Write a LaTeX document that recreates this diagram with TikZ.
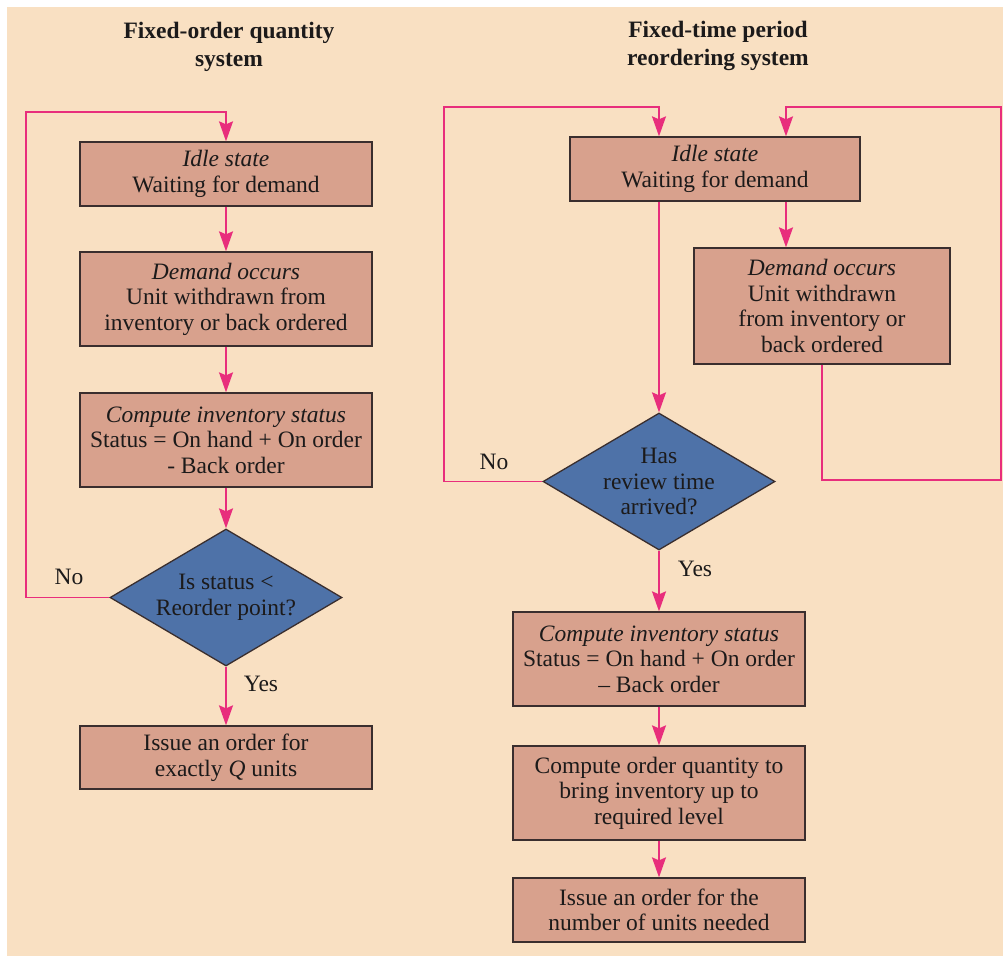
\documentclass[tikz,border=0pt]{standalone}
\usepackage{fontspec}
\setmainfont{Liberation Serif}
\usetikzlibrary{shapes.geometric,arrows.meta}

\definecolor{paper}{HTML}{F9E0C2}
\definecolor{boxfill}{HTML}{D8A18D}
\definecolor{boxline}{HTML}{3A2E2E}
\definecolor{diafill}{HTML}{4E72A8}
\definecolor{flowpink}{HTML}{E82E7C}
\definecolor{ink}{HTML}{1C1A1A}

\tikzset{
  heading/.style={align=center, text=ink, inner sep=0pt,
    font=\bfseries\fontsize{23.5}{27.5}\selectfont},
  stepbox/.style={draw=boxline, fill=boxfill, line width=1.3pt,
    minimum width=292pt, inner sep=0pt, align=center, text=ink,
    font=\fontsize{23.5}{25.5}\selectfont},
  decide/.style={diamond, draw=boxline, fill=diafill, line width=1.3pt,
    minimum width=232pt, minimum height=137pt, inner sep=0pt},
  decidetext/.style={align=center, text=ink, inner sep=0pt,
    font=\fontsize{23.5}{25.5}\selectfont},
  lbl/.style={text=ink, inner sep=0pt, font=\fontsize{23.5}{25}\selectfont},
  flow/.style={draw=flowpink, line width=1.7pt,
    -{Stealth[length=20pt,width=14pt,inset=3pt]}}
}

\begin{document}
\begin{tikzpicture}[x=1pt,y=-1pt]
  % page and paper tint
  \fill[white] (0,0) rectangle (1003,956);
  \fill[paper] (7,7) rectangle (1003,956);
  \useasboundingbox (0,0) rectangle (1003,956);

  % headings
  \node[heading] (ltitle) at (229,47) {Fixed-order quantity\\system};
  \node[heading] (rtitle) at (718,46) {Fixed-time period\\reordering system};

  % ---- fixed-order quantity system ----
  \node[stepbox, minimum height=64pt] (l1) at (226,174)
    {\textit{Idle state}\\Waiting for demand};
  \node[stepbox, minimum height=94pt] (l2) at (226,299)
    {\textit{Demand occurs}\\Unit withdrawn from\\inventory or back ordered};
  \node[stepbox, minimum height=94pt] (l3) at (226,440)
    {\textit{Compute inventory status}\\Status = On hand + On order\\- Back order};
  \node[decide, label={[decidetext]center:Is status <\\Reorder point?}] (ld) at (226,597.5) {};
  \node[stepbox, minimum height=63pt] (l4) at (226,757.5)
    {Issue an order for\\exactly \textit{Q} units};

  \coordinate (lcorner) at (26,112);
  \draw[flow] (l1) -- (l2);
  \draw[flow] (l2) -- (l3);
  \draw[flow] (l3) -- (ld);
  \draw[flow] (ld) -- (l4);
  \draw[flow] (ld.west) -| (lcorner) -| (l1.north);
  \node[lbl] (lno) at (69,577) {No};
  \node[lbl] (lyes) at (261,684) {Yes};

  % ---- fixed-time period reordering system ----
  \node[stepbox, minimum width=290pt, minimum height=64pt] (r1) at (715,169)
    {\textit{Idle state}\\Waiting for demand};
  \node[stepbox, minimum width=256pt, minimum height=116pt] (r2) at (822,306)
    {\textit{Demand occurs}\\Unit withdrawn\\from inventory or\\back ordered};
  \node[decide, label={[decidetext]center:Has\\review time\\arrived?}] (rd) at (659,481.5) {};
  \node[stepbox, minimum height=94pt] (r3) at (659,659)
    {\textit{Compute inventory status}\\Status = On hand + On order\\– Back order};
  \node[stepbox, minimum height=94pt] (r4) at (659,793)
    {Compute order quantity to\\bring inventory up to\\required level};
  \node[stepbox, minimum height=64pt] (r5) at (659,910)
    {Issue an order for the\\number of units needed};

  \coordinate (rleft) at (444,107);
  \coordinate (rdrop) at (786,107);
  \coordinate (rbottom) at (1001,480);
  \coordinate (rtop) at (1001,107);

  \draw[flow] (r1.south -| rd.north) -- (rd.north);
  \draw[flow] (r1.south -| rdrop) -- (r2.north -| rdrop);
  \draw[flow] (rd.west) -| (rleft) -| (r1.north -| rd.north);
  \draw[flow] (r2.south) |- (rbottom) -- (rtop) -| (r1.north -| rdrop);
  \draw[flow] (rd) -- (r3);
  \draw[flow] (r3) -- (r4);
  \draw[flow] (r4) -- (r5);
  \node[lbl] (rno) at (494,462) {No};
  \node[lbl] (ryes) at (695,569) {Yes};
\end{tikzpicture}
\end{document}
